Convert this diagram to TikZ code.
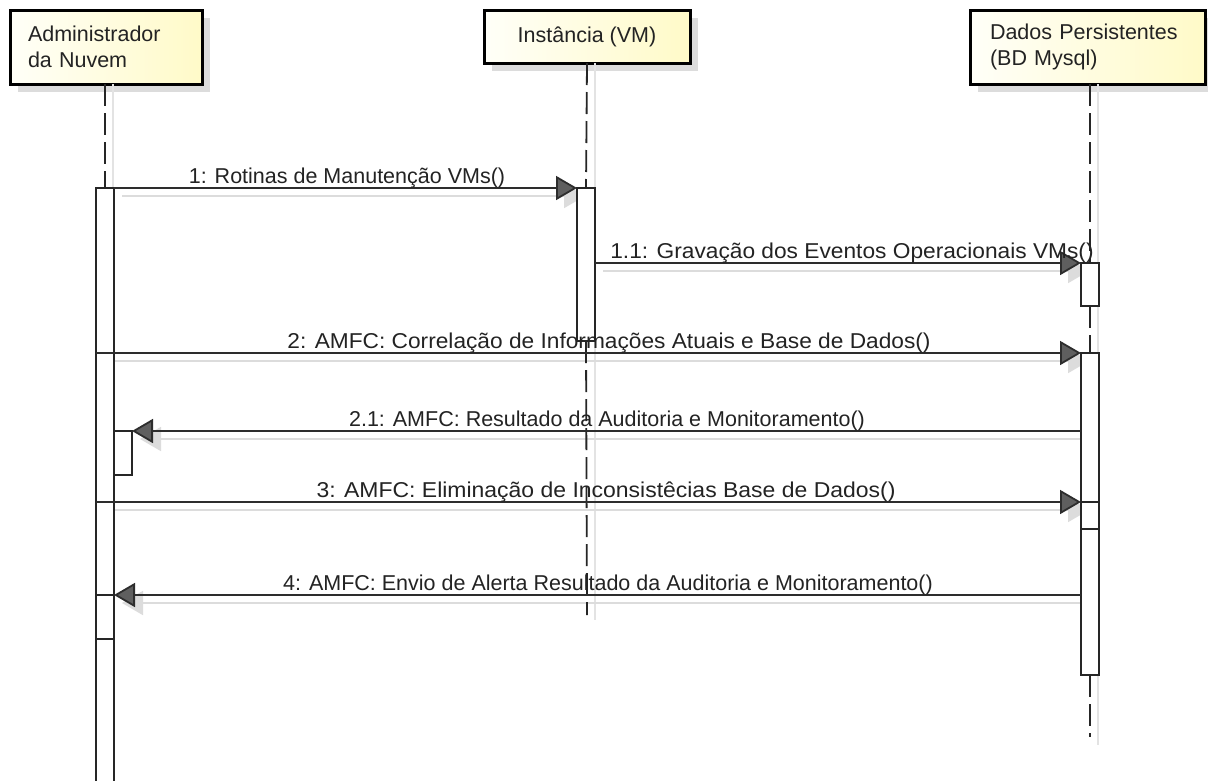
\documentclass[tikz,border=0pt]{standalone}
\usepackage{fontspec}
\setmainfont{Liberation Sans}
\usetikzlibrary{arrows.meta,shadows,calc}
\definecolor{boxL}{RGB}{255,255,248}
\definecolor{boxR}{RGB}{255,250,200}
\definecolor{shad}{RGB}{220,220,220}
\definecolor{msgc}{RGB}{45,45,45}
\definecolor{txt}{RGB}{35,35,35}
\definecolor{tipc}{RGB}{95,95,95}
\begin{document}
\begin{tikzpicture}[x=1pt,y=-1pt,
  font=\fontsize{21.5}{26}\selectfont,
  actor/.style={draw=black, line width=3pt, left color=boxL, right color=boxR,
    inner xsep=18pt, inner ysep=0pt, outer sep=0pt, text=txt,
    drop shadow={shadow xshift=8pt, shadow yshift=-8pt, fill=shad, opacity=1}},
  life/.style={line width=1.8pt, dash pattern=on 22pt off 7pt, draw=black!85},
  lifeshadow/.style={line width=1.5pt, draw=shad!80},
  bar/.style={draw=black!85, fill=white, line width=1.6pt, minimum width=18pt,
    inner sep=0pt, outer sep=0pt, anchor=north},
  msg/.style={draw=msgc, line width=1.8pt, -{Triangle[length=21pt,width=24pt,fill=tipc]}},
  msgshadow/.style={draw=shad, line width=1.8pt, -{Triangle[length=21pt,width=24pt,fill=shad]},
    transform canvas={xshift=8pt,yshift=-8pt}},
  lbl/.style={anchor=base, text=txt, inner sep=0pt}
]
\fill[white] (0,0) rectangle (1208,780);
\useasboundingbox (0,0) rectangle (1208,780);

% actors
\node[actor, anchor=north west, minimum width=192pt, minimum height=74pt,
  text width=156pt, align=left] (adm) at (10,10) {Administrador\\da Nuvem};
\node[actor, anchor=north west, minimum width=206pt, minimum height=53pt] (vm) at (484,10) {Instância (VM)};
\node[actor, anchor=north west, minimum width=235pt, minimum height=74pt,
  inner xsep=20pt, text width=195pt, align=left] (db) at (970,10) {Dados Persistentes\\(BD Mysql)};

% end points of lifelines
\coordinate (admTop) at (105,84);
\coordinate (vmTop) at (587,63);
\coordinate (dbTop) at (1090,84);
\coordinate (vmEnd) at (587,615);
\coordinate (dbEnd) at (1090,737);

% lifeline shadows
\draw[lifeshadow] ([xshift=8pt]admTop) -- ++(0,110);
\draw[lifeshadow] ([xshift=8pt]vmTop) -- ([xshift=8pt,yshift=-5pt]vmEnd);
\draw[lifeshadow] ([xshift=8pt]dbTop) -- ([xshift=8pt,yshift=-8pt]dbEnd);

% message shadows (drawn first)
\coordinate (s1a) at (114,188);  \coordinate (s1b) at (577,188);
\coordinate (s11a) at (595,263); \coordinate (s11b) at (1081,263);
\coordinate (s2a) at (96,353);   \coordinate (s2b) at (1081,353);
\coordinate (s21a) at (1081,431);\coordinate (s21b) at (132,431);
\coordinate (s3a) at (96,502);   \coordinate (s3b) at (1081,502);
\coordinate (s4a) at (1081,595); \coordinate (s4b) at (114,595);
\draw[msgshadow] (s1a) -- (s1b);
\draw[msgshadow] (s11a) -- (s11b);
\draw[msgshadow] (s2a) -- (s2b);
\draw[msgshadow] (s21a) -- (s21b);
\draw[msgshadow] (s3a) -- (s3b);
\draw[msgshadow] (s4a) -- (s4b);

% activation bars
\node[bar, minimum height=600pt] (abar) at (105,188) {};
\node[bar, minimum height=153pt] (vbar) at (586,188) {};
\node[bar, minimum height=43pt] (dbar1) at (1090,263) {};
\node[bar, minimum height=322pt] (dbar2) at (1090,353) {};
\node[bar, minimum height=27pt] (dbar3) at (1090,502) {};
\node[bar, minimum height=44pt] (abar2) at (123,431) {};
\node[bar, minimum height=44pt] (abar3) at (105,595) {};

% lifelines
\draw[life] (admTop) -- (abar.north);
\draw[life] (vm.south) -- (vbar.north);
\draw[life] (vbar.south) -- (vmEnd);
\draw[life] (dbTop) -- (dbar1.north);
\draw[life] (dbar1.south) -- (dbar2.north);
\draw[life] (dbar2.south) -- (dbEnd);

% messages
\draw[msg] (abar.north east) -- (vbar.north west);
\draw[msg] (vbar.east |- dbar1.north) -- (dbar1.north west);
\draw[msg] (abar.west |- dbar2.north) -- (dbar2.north west);
\draw[msg] (dbar2.west |- abar2.north) -- (abar2.north east);
\draw[msg] (abar.west |- dbar3.north) -- (dbar3.north west);
\draw[msg] (dbar2.west |- abar3.north) -- (abar3.north east);

% labels
\node[lbl] (l1) at (347,183) {1: Rotinas de Manutenção VMs()};
\node[lbl] (l11) at (852,258) {\scalebox{1.057}[1]{1.1: Gravação dos Eventos Operacionais VMs()}};
\node[lbl] (l2) at (609,348) {\scalebox{1.056}[1]{2: AMFC: Correlação de Informações Atuais e Base de Dados()}};
\node[lbl] (l21) at (607,426) {2.1: AMFC: Resultado da Auditoria e Monitoramento()};
\node[lbl] (l3) at (606,497) {\scalebox{1.068}[1]{3: AMFC: Eliminação de Inconsistêcias Base de Dados()}};
\node[lbl] (l4) at (608,590) {4: AMFC: Envio de Alerta Resultado da Auditoria e Monitoramento()};
\end{tikzpicture}
\end{document}
